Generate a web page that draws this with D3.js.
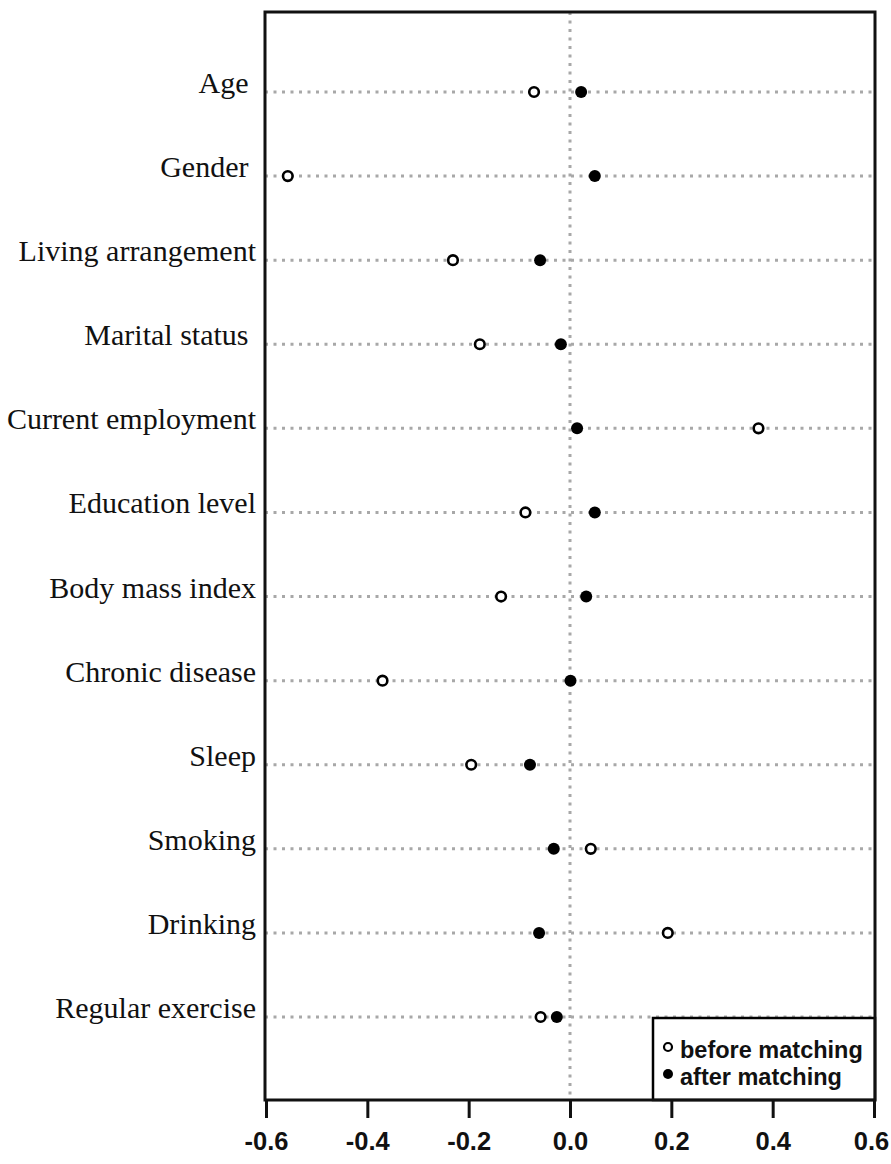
<!DOCTYPE html>
<html>
<head>
<meta charset="utf-8">
<script src="https://cdn.jsdelivr.net/npm/d3@7"></script>
<style>
  html, body { margin: 0; padding: 0; background: #fff; }
  svg { display: block; }
</style>
</head>
<body>
<svg id="chart" width="891" height="1164"></svg>
<script>
const categories = ["Age ", "Gender ", "Living arrangement", "Marital status ", "Current employment",
  "Education level", "Body mass index", "Chronic disease", "Sleep", "Smoking", "Drinking", "Regular exercise"];
const beforeMatching = [-0.071, -0.557, -0.231, -0.178, 0.372, -0.088, -0.136, -0.370, -0.195, 0.041, 0.193, -0.058];
const afterMatching  = [0.022, 0.049, -0.059, -0.018, 0.014, 0.049, 0.032, 0.001, -0.079, -0.032, -0.061, -0.026];
const xTicks = [-0.6, -0.4, -0.2, 0.0, 0.2, 0.4, 0.6];
const legendLabels = ["before matching", "after matching"];

const svg = d3.select("#chart");
const frame = { left: 265, right: 875, top: 12, bottom: 1100 };

const x = d3.scaleLinear().domain([-0.6, 0.6]).range([266, 874]);
const y = d3.scalePoint().domain(categories).range([92, 1017]);

// row dotted lines
svg.append("g").selectAll("line").data(categories).join("line")
  .attr("x1", frame.left).attr("x2", frame.right)
  .attr("y1", d => y(d)).attr("y2", d => y(d))
  .attr("stroke", "#a8a8a8").attr("stroke-width", 3)
  .attr("stroke-dasharray", "3,5.5");

// zero vertical dotted line
svg.append("line")
  .attr("x1", x(0)).attr("x2", x(0))
  .attr("y1", frame.top).attr("y2", frame.bottom)
  .attr("stroke", "#a8a8a8").attr("stroke-width", 3)
  .attr("stroke-dasharray", "3,5.5");

// labels
svg.append("g").selectAll("text").data(categories).join("text")
  .attr("x", 256).attr("y", d => y(d) + 1)
  .attr("text-anchor", "end")
  .attr("font-family", "'Liberation Serif', 'Times New Roman', serif")
  .attr("font-size", 30)
  .attr("fill", "#111")
  .style("white-space", "pre")
  .attr("xml:space", "preserve")
  .text(d => d);

// points
svg.append("g").selectAll("circle").data(beforeMatching).join("circle")
  .attr("cx", d => x(d)).attr("cy", (d, i) => y(categories[i]))
  .attr("r", 4.8).attr("fill", "#fff").attr("stroke", "#000").attr("stroke-width", 2.6);

svg.append("g").selectAll("circle").data(afterMatching).join("circle")
  .attr("cx", d => x(d)).attr("cy", (d, i) => y(categories[i]))
  .attr("r", 6).attr("fill", "#000");

// legend box
const lg = { left: 653, top: 1018 };
svg.append("rect")
  .attr("x", lg.left).attr("y", lg.top)
  .attr("width", frame.right - lg.left).attr("height", frame.bottom - lg.top)
  .attr("fill", "#fff").attr("stroke", "#000").attr("stroke-width", 2.5);

const legY = [1047, 1074];
svg.append("circle").attr("cx", 668).attr("cy", legY[0]).attr("r", 4)
  .attr("fill", "#fff").attr("stroke", "#000").attr("stroke-width", 2.2);
svg.append("circle").attr("cx", 668).attr("cy", legY[1]).attr("r", 5)
  .attr("fill", "#000");
svg.append("g").selectAll("text").data(legendLabels).join("text")
  .attr("x", 680).attr("y", (d, i) => legY[i] + 11)
  .attr("font-family", "'Liberation Sans', Arial, sans-serif")
  .attr("font-size", 23.5).attr("font-weight", "bold")
  .attr("fill", "#111")
  .text(d => d);

// frame
svg.append("rect")
  .attr("x", frame.left).attr("y", frame.top)
  .attr("width", frame.right - frame.left).attr("height", frame.bottom - frame.top)
  .attr("fill", "none").attr("stroke", "#111").attr("stroke-width", 3);

// x axis
const axis = svg.append("g").attr("transform", `translate(0,${frame.bottom})`)
  .call(d3.axisBottom(x).tickValues(xTicks).tickFormat(d3.format(".1f")).tickSize(18).tickPadding(14));
axis.select(".domain").remove();
axis.selectAll(".tick line").attr("stroke", "#111").attr("stroke-width", 3);
axis.selectAll(".tick text")
  .attr("font-family", "'Liberation Sans', Arial, sans-serif")
  .attr("font-size", 25.5).attr("font-weight", "bold").attr("fill", "#111")
  .attr("x", d => d === 0.6 ? -3 : 0)
  .text(d => d3.format(".1f")(d).replace("−", "-"));
</script>
</body>
</html>
